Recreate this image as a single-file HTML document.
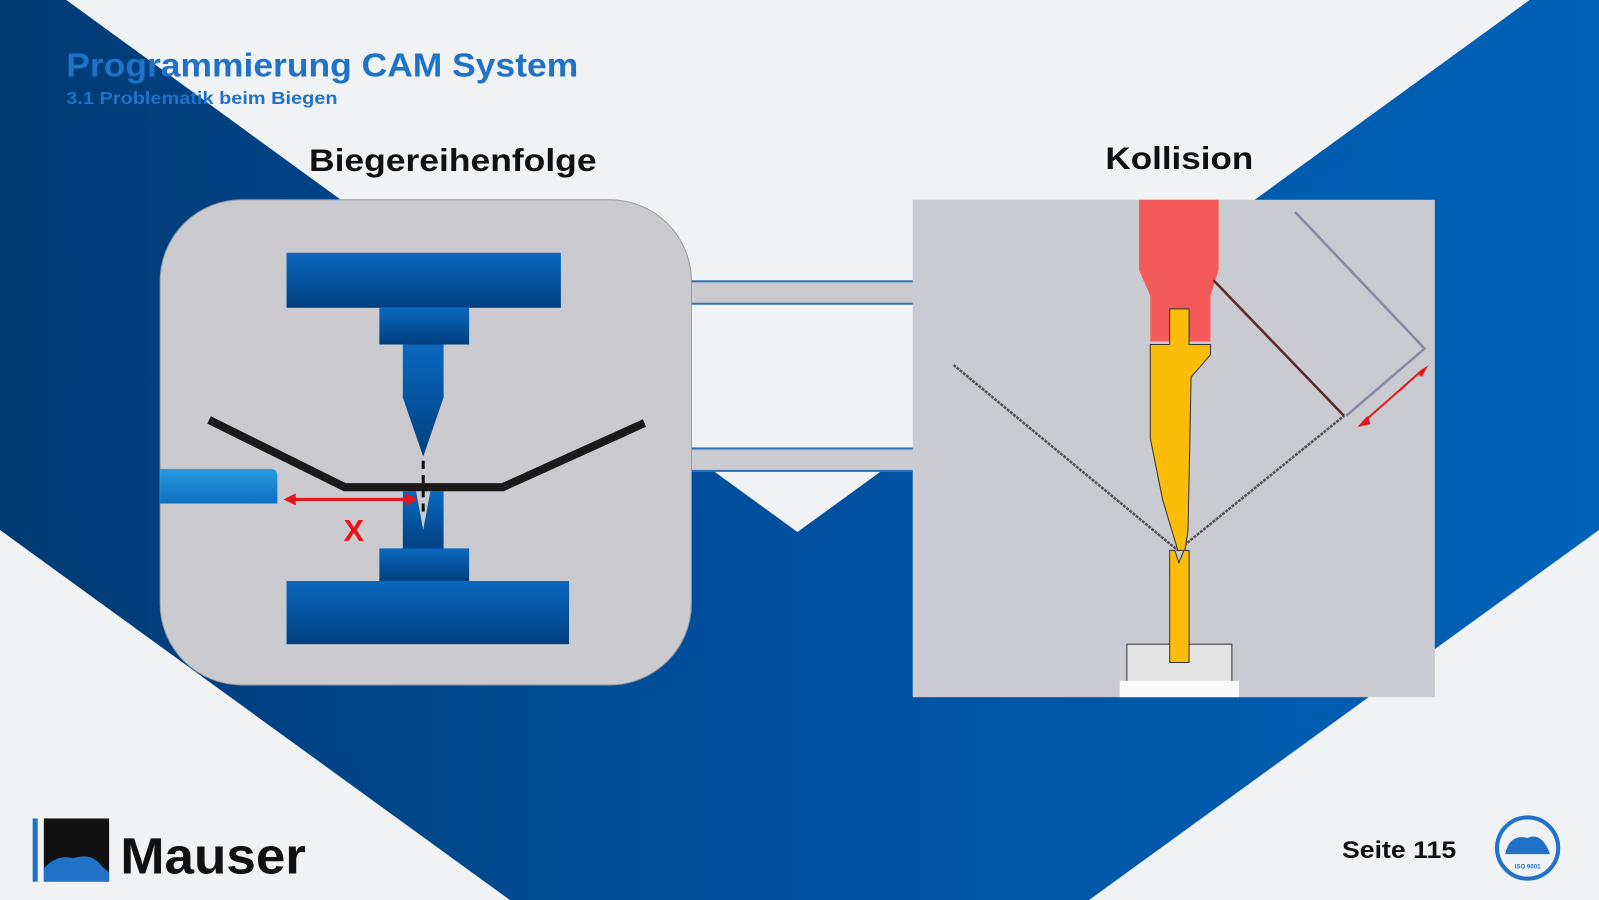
<!DOCTYPE html>
<html><head><meta charset="utf-8"><style>
html,body{margin:0;padding:0;background:#f1f2f4;}
svg{display:block;}
text{font-family:"Liberation Sans",sans-serif;}
</style></head><body>
<svg width="1599" height="900" viewBox="0 0 1568 883" preserveAspectRatio="none" xmlns="http://www.w3.org/2000/svg">
<defs>
<linearGradient id="bg" x1="0" y1="0" x2="1" y2="0">
<stop offset="0" stop-color="#003a73"/><stop offset="0.45" stop-color="#004f9c"/><stop offset="1" stop-color="#0062b8"/>
</linearGradient>
<linearGradient id="steel" x1="0" y1="0" x2="0" y2="1">
<stop offset="0" stop-color="#0a68bf"/><stop offset="1" stop-color="#003f80"/>
</linearGradient>
<linearGradient id="gauge" x1="0" y1="0" x2="0" y2="1">
<stop offset="0" stop-color="#2a9be0"/><stop offset="1" stop-color="#0a6fc0"/>
</linearGradient>
</defs>
<rect width="1568" height="883" fill="url(#bg)"/>
<polygon points="65,0 1500,0 782,522" fill="#f1f2f4"/>
<polygon points="0,520 0,883 500,883" fill="#f1f2f4"/>
<polygon points="1568,520 1568,883 1068,883" fill="#f1f2f4"/>

<text x="65" y="75" font-size="33" font-weight="bold" fill="#1f72c8" textLength="502" lengthAdjust="spacingAndGlyphs">Programmierung CAM System</text>
<text x="65" y="102" font-size="17" font-weight="bold" fill="#1f72c8" textLength="266" lengthAdjust="spacingAndGlyphs">3.1 Problematik beim Biegen</text>
<text x="303" y="168" font-size="31" font-weight="bold" fill="#111" textLength="282" lengthAdjust="spacingAndGlyphs">Biegereihenfolge</text>
<text x="1084" y="166" font-size="31" font-weight="bold" fill="#111" textLength="145" lengthAdjust="spacingAndGlyphs">Kollision</text>

<!-- connector bars -->
<rect x="676" y="276" width="222" height="22" fill="#cbcbcf" stroke="#2a73b8" stroke-width="2"/>
<rect x="676" y="440" width="222" height="22" fill="#cbcbcf" stroke="#2a73b8" stroke-width="2"/>

<!-- left panel -->
<rect x="157" y="196" width="521" height="476" rx="80" fill="#cbcbcf" stroke="#9a9aa0" stroke-width="1"/>
<rect x="281" y="248" width="269" height="54" fill="url(#steel)"/>
<rect x="372" y="302" width="88" height="36" fill="url(#steel)"/>
<polygon points="395,338 435,338 435,390 415,448 395,390" fill="url(#steel)"/>
<polyline points="205,412 338,478 493,478 632,415" fill="none" stroke="#1a1a1a" stroke-width="8"/>
<line x1="415" y1="452" x2="415" y2="505" stroke="#111" stroke-width="3" stroke-dasharray="8,6"/>
<polygon points="395,482 408,482 415,520 422,482 435,482 435,540 395,540" fill="url(#steel)"/>
<rect x="372" y="538" width="88" height="32" fill="url(#steel)"/>
<rect x="281" y="570" width="277" height="62" fill="url(#steel)"/>
<path d="M157,460 H265 Q272,460 272,467 V494 H157 Z" fill="url(#gauge)"/>
<line x1="284" y1="490" x2="404" y2="490" stroke="#e8141c" stroke-width="3"/>
<polygon points="278,490 290,484 290,496" fill="#e8141c"/>
<polygon points="410,490 398,484 398,496" fill="#e8141c"/>
<text x="347" y="531" font-size="30" font-weight="bold" fill="#e8141c" text-anchor="middle">X</text>

<!-- right panel -->
<rect x="895" y="196" width="512" height="488" fill="#cacbd1"/>
<polygon points="1117,196 1195,196 1195,265 1187,290 1187,335 1128,335 1128,290 1117,265" fill="#f55a5a"/>
<line x1="935" y1="358" x2="1155" y2="540" stroke="#555" stroke-width="2.5" stroke-dasharray="3,1"/>
<line x1="1155" y1="540" x2="1318" y2="408" stroke="#555" stroke-width="2.5" stroke-dasharray="3,1"/>
<line x1="1190" y1="275" x2="1318" y2="408" stroke="#5a2a2a" stroke-width="2.5"/>
<polyline points="1270,208 1397,342 1320,408" fill="none" stroke="#8a88a8" stroke-width="2.5"/>
<polygon points="1147,303 1166,303 1166,338 1187,338 1187,348 1168,370 1165,520 1162,540 1155,540 1140,490 1128,430 1128,338 1147,338" fill="#fbbd08" stroke="#333" stroke-width="1"/>
<rect x="1105" y="632" width="103" height="38" fill="#e4e4e4" stroke="#333" stroke-width="1"/>
<rect x="1098" y="668" width="117" height="16" fill="#fafafa"/>
<polygon points="1147,540 1152,540 1156,552 1161,540 1166,540 1166,650 1147,650" fill="#fbbd08" stroke="#333" stroke-width="1"/>
<line x1="1336" y1="415" x2="1396" y2="362" stroke="#e8141c" stroke-width="2"/>
<polygon points="1331,419 1341,408 1344,416" fill="#e8141c"/>
<polygon points="1401,358 1390,366 1394,370" fill="#e8141c"/>

<!-- footer -->
<rect x="32" y="803" width="5" height="62" fill="#1f72c8"/>
<rect x="43" y="803" width="64" height="62" fill="#111"/>
<path d="M43,865 V852 Q55,838 72,842 Q90,836 100,850 L107,856 V865 Z" fill="#1f72c8"/>
<text x="118" y="857" font-size="50" font-weight="bold" fill="#111" textLength="182" lengthAdjust="spacingAndGlyphs">Mauser</text>
<text x="1316" y="842" font-size="24" font-weight="bold" fill="#111" textLength="112" lengthAdjust="spacingAndGlyphs">Seite 115</text>
<circle cx="1498" cy="832" r="30" fill="#f1f2f4" stroke="#1f72c8" stroke-width="4"/>
<path d="M1476,838 Q1480,818 1498,822 Q1512,816 1520,838 Z" fill="#1f72c8"/>
<text x="1498" y="852" font-size="6" font-weight="bold" fill="#1f72c8" text-anchor="middle">ISO 9001</text>
</svg>
</body></html>
